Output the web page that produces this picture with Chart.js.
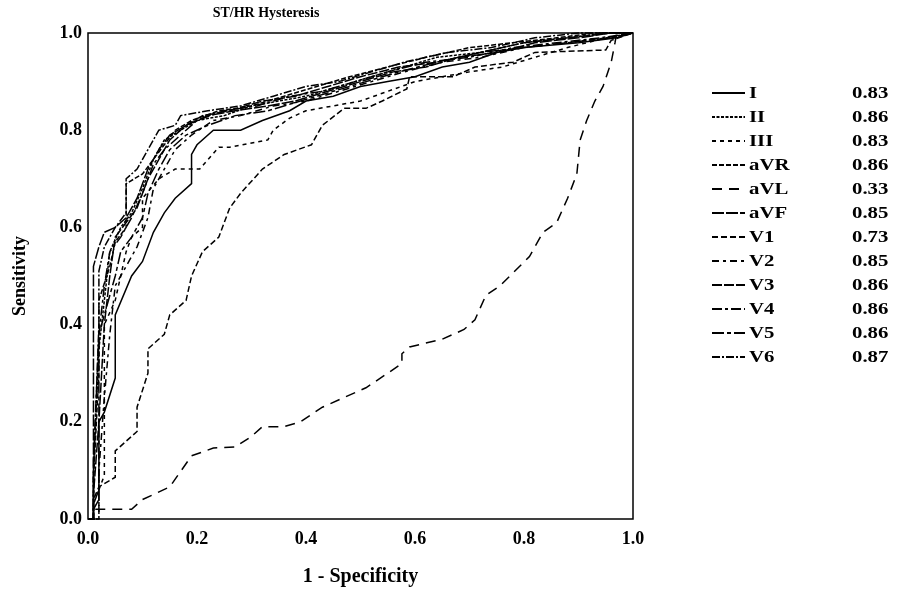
<!DOCTYPE html>
<html>
<head>
<meta charset="utf-8">
<script src="https://cdn.jsdelivr.net/npm/chart.js@4.4.1/dist/chart.umd.min.js"></script>
<style>
  html, body { margin: 0; padding: 0; background: #fff; }
  #wrap { width: 903px; height: 592px; }
</style>
</head>
<body>
<div id="wrap"><canvas id="roc" width="903" height="592"></canvas></div>
<script>
// ROC curves, [1 - specificity, sensitivity]
const leadI = [[0,0],[0.01,0],[0.01,0.02],[0.02,0.04],[0.02,0.20],[0.03,0.22],[0.05,0.29],[0.05,0.42],[0.08,0.50],[0.10,0.53],[0.12,0.59],[0.14,0.63],[0.16,0.66],[0.19,0.69],[0.19,0.75],[0.20,0.77],[0.23,0.80],[0.28,0.80],[0.32,0.82],[0.37,0.84],[0.40,0.86],[0.45,0.87],[0.50,0.89],[0.55,0.90],[0.60,0.91],[0.65,0.93],[0.70,0.94],[0.75,0.96],[0.80,0.97],[0.90,0.98],[0.97,0.99],[1,1]];
const leadII = [[0,0],[0.01,0],[0.01,0.10],[0.02,0.35],[0.03,0.45],[0.04,0.55],[0.06,0.60],[0.08,0.63],[0.10,0.68],[0.12,0.74],[0.14,0.78],[0.17,0.80],[0.20,0.82],[0.25,0.83],[0.30,0.85],[0.35,0.86],[0.40,0.87],[0.46,0.89],[0.52,0.91],[0.58,0.93],[0.64,0.95],[0.72,0.96],[0.80,0.98],[0.88,0.99],[0.95,1.0],[1,1]];
const leadIII = [[0,0],[0.02,0],[0.02,0.06],[0.03,0.09],[0.03,0.40],[0.05,0.45],[0.06,0.50],[0.07,0.55],[0.08,0.58],[0.10,0.60],[0.10,0.66],[0.13,0.70],[0.16,0.72],[0.205,0.72],[0.24,0.765],[0.26,0.765],[0.33,0.78],[0.34,0.80],[0.37,0.825],[0.40,0.84],[0.45,0.85],[0.50,0.86],[0.55,0.88],[0.60,0.90],[0.65,0.91],[0.70,0.92],[0.76,0.93],[0.82,0.95],[0.88,0.97],[0.95,0.99],[1,1]];
const leadAVR = [[0,0],[0.01,0],[0.01,0.08],[0.02,0.30],[0.02,0.45],[0.04,0.52],[0.05,0.57],[0.07,0.60],[0.07,0.69],[0.10,0.71],[0.12,0.74],[0.14,0.77],[0.16,0.80],[0.19,0.82],[0.24,0.84],[0.30,0.85],[0.36,0.87],[0.42,0.89],[0.48,0.91],[0.55,0.93],[0.62,0.95],[0.70,0.97],[0.78,0.98],[0.86,0.99],[0.93,1.0],[1,1]];
const leadAVL = [[0,0],[0.01,0],[0.01,0.02],[0.08,0.02],[0.10,0.04],[0.15,0.066],[0.19,0.13],[0.23,0.146],[0.27,0.148],[0.30,0.17],[0.32,0.19],[0.36,0.19],[0.39,0.20],[0.43,0.23],[0.47,0.25],[0.51,0.27],[0.55,0.30],[0.576,0.32],[0.576,0.34],[0.59,0.354],[0.65,0.37],[0.69,0.39],[0.71,0.41],[0.73,0.46],[0.756,0.48],[0.81,0.54],[0.835,0.59],[0.86,0.61],[0.88,0.66],[0.897,0.71],[0.903,0.78],[0.915,0.82],[0.93,0.86],[0.945,0.89],[0.96,0.94],[0.967,0.98],[0.97,1.0],[1,1]];
const leadAVF = [[0,0],[0.01,0],[0.01,0.52],[0.02,0.56],[0.03,0.59],[0.05,0.60],[0.07,0.62],[0.09,0.66],[0.11,0.72],[0.13,0.76],[0.15,0.79],[0.18,0.81],[0.22,0.83],[0.27,0.84],[0.33,0.85],[0.38,0.86],[0.44,0.88],[0.50,0.90],[0.56,0.92],[0.62,0.93],[0.68,0.95],[0.75,0.96],[0.82,0.98],[0.90,0.99],[0.96,1.0],[1,1]];
const leadV1 = [[0,0],[0.01,0],[0.01,0.04],[0.02,0.066],[0.05,0.086],[0.05,0.14],[0.06,0.15],[0.09,0.18],[0.09,0.23],[0.11,0.30],[0.11,0.35],[0.14,0.38],[0.15,0.42],[0.18,0.45],[0.19,0.50],[0.21,0.55],[0.24,0.58],[0.26,0.64],[0.28,0.67],[0.32,0.72],[0.36,0.75],[0.41,0.77],[0.43,0.81],[0.47,0.845],[0.51,0.845],[0.54,0.86],[0.585,0.885],[0.59,0.91],[0.67,0.91],[0.71,0.93],[0.78,0.94],[0.82,0.96],[0.95,0.965],[0.96,0.985],[1,1]];
const leadV2 = [[0,0],[0.02,0],[0.02,0.10],[0.03,0.25],[0.04,0.38],[0.05,0.48],[0.07,0.52],[0.09,0.56],[0.11,0.62],[0.12,0.68],[0.14,0.72],[0.16,0.76],[0.19,0.79],[0.23,0.82],[0.28,0.83],[0.34,0.85],[0.40,0.86],[0.46,0.88],[0.52,0.90],[0.58,0.92],[0.65,0.94],[0.72,0.95],[0.80,0.97],[0.88,0.98],[0.95,0.99],[1,1]];
const leadV3 = [[0,0],[0.01,0],[0.01,0.05],[0.02,0.20],[0.03,0.40],[0.04,0.50],[0.05,0.58],[0.07,0.61],[0.09,0.64],[0.11,0.70],[0.13,0.74],[0.15,0.78],[0.18,0.81],[0.21,0.83],[0.26,0.84],[0.32,0.86],[0.38,0.87],[0.44,0.89],[0.50,0.91],[0.57,0.93],[0.64,0.94],[0.72,0.96],[0.80,0.98],[0.88,0.99],[0.96,1.0],[1,1]];
const leadV4 = [[0,0],[0.01,0],[0.01,0.12],[0.02,0.38],[0.03,0.48],[0.04,0.55],[0.06,0.58],[0.08,0.62],[0.10,0.67],[0.12,0.73],[0.14,0.76],[0.17,0.79],[0.20,0.82],[0.25,0.84],[0.31,0.85],[0.37,0.87],[0.43,0.88],[0.49,0.90],[0.55,0.92],[0.62,0.94],[0.70,0.95],[0.78,0.97],[0.86,0.98],[0.94,0.99],[1,1]];
const leadV5 = [[0,0],[0.01,0],[0.01,0.03],[0.02,0.06],[0.02,0.38],[0.03,0.42],[0.05,0.50],[0.06,0.55],[0.08,0.58],[0.10,0.62],[0.11,0.67],[0.13,0.72],[0.15,0.76],[0.18,0.79],[0.22,0.81],[0.27,0.83],[0.33,0.84],[0.39,0.86],[0.45,0.88],[0.51,0.90],[0.57,0.92],[0.64,0.94],[0.72,0.96],[0.80,0.97],[0.88,0.98],[0.96,0.99],[1,1]];
const leadV6 = [[0,0],[0.01,0],[0.01,0.09],[0.02,0.40],[0.02,0.51],[0.03,0.56],[0.05,0.60],[0.07,0.63],[0.07,0.70],[0.09,0.72],[0.11,0.76],[0.13,0.80],[0.16,0.81],[0.17,0.83],[0.22,0.84],[0.28,0.85],[0.34,0.87],[0.40,0.89],[0.46,0.90],[0.52,0.92],[0.58,0.94],[0.66,0.96],[0.74,0.97],[0.82,0.99],[0.90,1.0],[1,1]];

const leadNames = ['I', 'II', 'III', 'aVR', 'aVL', 'aVF', 'V1', 'V2', 'V3', 'V4', 'V5', 'V6'];
const aucValues = ['0.83', '0.86', '0.83', '0.86', '0.33', '0.85', '0.73', '0.85', '0.86', '0.86', '0.86', '0.87'];
const tickValues = [0, 0.2, 0.4, 0.6, 0.8, 1.0];

const curves = [leadI, leadII, leadIII, leadAVR, leadAVL, leadAVF, leadV1, leadV2, leadV3, leadV4, leadV5, leadV6];
const dashes = [
  [], [3, 1.5], [4, 4], [5, 2], [10, 7], [12, 2],
  [6, 3], [7, 4, 3, 4], [10, 2], [10, 3, 3, 3], [12, 3, 4, 3], [8, 2, 2, 2]
];

const FONT = "'Liberation Serif', 'Times New Roman', serif";

const datasets = curves.map((pts, i) => ({
  label: leadNames[i],
  data: pts.map(p => ({x: p[0], y: p[1]})),
  showLine: true,
  borderColor: '#000',
  borderWidth: 1.5,
  borderDash: dashes[i],
  pointRadius: 0,
  tension: 0,
  clip: false
}));

// stretched bold text, the source figure uses a wide serif face
function wideText(ctx, text, x, y, sx) {
  ctx.save();
  ctx.translate(x, y);
  ctx.scale(sx, 1);
  ctx.fillText(text, 0, 0);
  ctx.restore();
}

const framePlugin = {
  id: 'frame',
  afterDraw(chart) {
    const {ctx, chartArea: a} = chart;
    ctx.save();
    ctx.strokeStyle = '#000';
    ctx.lineWidth = 1.5;
    ctx.strokeRect(a.left, a.top, a.right - a.left, a.bottom - a.top);

    // title
    ctx.fillStyle = '#000';
    ctx.font = 'bold 14px ' + FONT;
    ctx.textAlign = 'center';
    ctx.textBaseline = 'middle';
    ctx.fillText('ST/HR Hysteresis', 266, 13);

    // legend with AUC values
    ctx.font = 'bold 16px ' + FONT;
    ctx.textAlign = 'left';
    leadNames.forEach((name, i) => {
      const y = 93 + i * 24;
      ctx.beginPath();
      ctx.setLineDash(dashes[i]);
      ctx.lineWidth = 1.8;
      ctx.moveTo(712, y);
      ctx.lineTo(745, y);
      ctx.stroke();
      ctx.setLineDash([]);
      wideText(ctx, name, 749, y + 1, 1.3);
      wideText(ctx, aucValues[i], 852, y + 1, 1.3);
    });
    ctx.restore();
  }
};

new Chart(document.getElementById('roc'), {
  type: 'scatter',
  data: {datasets},
  options: {
    responsive: false,
    animation: false,
    layout: {padding: {top: 33, right: 270, left: 0, bottom: 0}},
    plugins: {legend: {display: false}, tooltip: {enabled: false}},
    scales: {
      x: {
        type: 'linear', min: 0, max: 1,
        afterFit(s) { s.height = 73; },
        afterBuildTicks(s) { s.ticks = tickValues.map(v => ({value: v})); },
        grid: {display: false, drawTicks: false},
        border: {display: false},
        ticks: {
          padding: 10, color: '#000',
          font: {family: FONT, size: 18, weight: 'bold'},
          callback: v => v.toFixed(1)
        },
        title: {
          display: true, text: '1 - Specificity', color: '#000',
          font: {family: FONT, size: 20, weight: 'bold'},
          padding: {top: 0, bottom: 3}
        }
      },
      y: {
        type: 'linear', min: 0, max: 1,
        afterFit(s) { s.width = 88; },
        afterBuildTicks(s) { s.ticks = tickValues.map(v => ({value: v})); },
        grid: {display: false, drawTicks: false},
        border: {display: false},
        ticks: {
          padding: 6, color: '#000',
          font: {family: FONT, size: 18, weight: 'bold'},
          callback: v => v.toFixed(1)
        },
        title: {
          display: true, text: 'Sensitivity', color: '#000',
          font: {family: FONT, size: 18, weight: 'bold'},
          padding: {top: 10, bottom: 0}
        }
      }
    }
  },
  plugins: [framePlugin]
});
</script>
</body>
</html>
